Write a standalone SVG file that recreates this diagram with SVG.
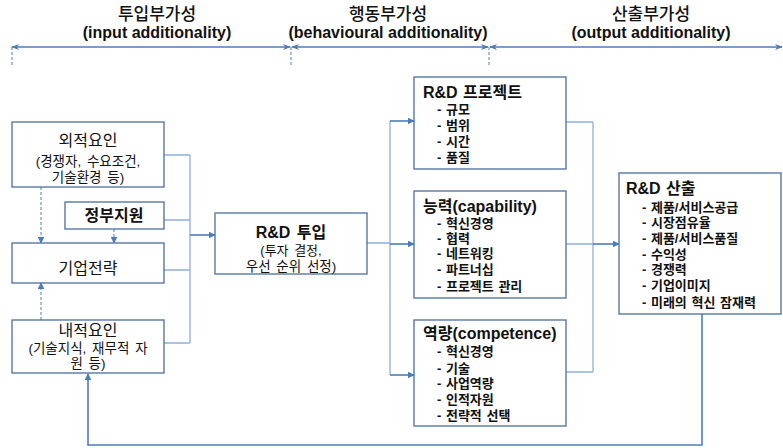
<svg xmlns="http://www.w3.org/2000/svg" width="783" height="448" viewBox="0 0 783 448">
<style>
text{font-family:"Liberation Sans","Noto Sans CJK KR",sans-serif;fill:#111;}
.hd{font-size:16px;font-weight:bold;text-anchor:middle;}
.hk{font-size:17px;font-weight:500;}
.box{fill:#fff;stroke:#4a6f9c;stroke-width:1.3;}
.t{font-size:13.5px;text-anchor:middle;word-spacing:2px;}
.t1{font-size:16px;}
.tb{font-size:16px;font-weight:bold;}
.it{font-size:13px;font-weight:bold;word-spacing:1px;}
.thin{stroke:#8fb0da;stroke-width:1.3;fill:none;}
.main{stroke:#4a7ebb;stroke-width:1.6;fill:none;}
.dash{stroke:#4a7ebb;stroke-width:1;stroke-dasharray:3,2;fill:none;}
</style>
<defs>
<marker id="ah" viewBox="0 0 10 10" refX="9" refY="5" markerWidth="7" markerHeight="7" markerUnits="userSpaceOnUse" orient="auto-start-reverse"><path d="M0,0 L10,5 L0,10 z" fill="#4a7ebb"/></marker>
<marker id="ah2" viewBox="0 0 10 10" refX="9" refY="5" markerWidth="8" markerHeight="8" markerUnits="userSpaceOnUse" orient="auto-start-reverse"><path d="M0,1 L10,5 L0,9 L3,5 z" fill="#4a7ebb"/></marker>
</defs>

<g id="headers">
<text class="hd" x="157" y="19.5"><tspan class="hk">투입부가성</tspan><tspan x="157" dy="18.5">(input additionality)</tspan></text>
<text class="hd" x="388" y="19.5"><tspan class="hk">행동부가성</tspan><tspan x="388" dy="18.5">(behavioural additionality)</tspan></text>
<text class="hd" x="651" y="19.5"><tspan class="hk">산출부가성</tspan><tspan x="651" dy="18.5">(output additionality)</tspan></text>
</g>

<g id="connectors">
<line class="main" x1="12" y1="47" x2="290" y2="47" marker-start="url(#ah2)" marker-end="url(#ah2)"/>
<line class="main" x1="292" y1="47" x2="488" y2="47" marker-start="url(#ah2)" marker-end="url(#ah2)"/>
<line class="main" x1="490" y1="47" x2="782" y2="47" marker-start="url(#ah2)" marker-end="url(#ah2)"/>
<line class="dash" x1="12" y1="47" x2="12" y2="67"/>
<line class="dash" x1="291" y1="47" x2="291" y2="67"/>
<line class="dash" x1="489" y1="47" x2="489" y2="67"/>

<line class="dash" x1="41" y1="187" x2="41" y2="243" marker-end="url(#ah)"/>
<line class="dash" x1="114" y1="229" x2="114" y2="243" marker-end="url(#ah)"/>
<line class="dash" x1="41" y1="320" x2="41" y2="283" marker-end="url(#ah)"/>

<path class="thin" d="M164,155 H190 M164,220 H190 M164,270 H190 M164,343 H190 M190,155 V343"/>
<line class="main" x1="190" y1="235" x2="215" y2="235" marker-end="url(#ah)"/>

<path class="thin" d="M367,243 H390 M390,121 V375"/>
<line class="main" x1="390" y1="121" x2="414" y2="121" marker-end="url(#ah)"/>
<line class="main" x1="390" y1="244" x2="414" y2="244" marker-end="url(#ah)"/>
<line class="main" x1="390" y1="375" x2="414" y2="375" marker-end="url(#ah)"/>

<path class="thin" d="M566,122 H593 M566,372 H593 M593,122 V372 M566,244 H593"/>
<line class="main" x1="593" y1="244" x2="619" y2="244" marker-end="url(#ah)"/>

<path class="main" d="M702,314 V445 H88 V374" marker-end="url(#ah)"/>
</g>

<g id="external">
<rect class="box" x="12" y="122" width="152" height="65"/>
<text class="t" x="88" y="146"><tspan class="t1">외적요인</tspan><tspan x="88" dy="20">(경쟁자, 수요조건,</tspan><tspan x="88" dy="16">기술환경 등)</tspan></text>
</g>

<g id="gov">
<rect class="box" x="65" y="202" width="99" height="27"/>
<text class="t" x="114" y="221" style="font-size:16px;font-weight:bold">정부지원</text>
</g>

<g id="strategy">
<rect class="box" x="12" y="243" width="152" height="40"/>
<text class="t" x="88" y="274" style="font-size:16px">기업전략</text>
</g>

<g id="internal">
<rect class="box" x="12" y="320" width="152" height="53"/>
<text class="t" x="88" y="336"><tspan class="t1">내적요인</tspan><tspan x="88" dy="16.5">(기술지식, 재무적 자</tspan><tspan x="88" dy="15.5">원 등)</tspan></text>
</g>

<g id="rdinput">
<rect class="box" x="215" y="213" width="152" height="61"/>
<text class="t" x="291" y="238"><tspan class="tb">R&amp;D 투입</tspan><tspan x="291" dy="17" style="font-size:13px">(투자 결정,</tspan><tspan x="291" dy="15.5">우선 순위 선정)</tspan></text>
</g>

<g id="project">
<rect class="box" x="414" y="77" width="152" height="92"/>
<text class="it" x="423" y="98"><tspan class="tb">R&amp;D 프로젝트</tspan><tspan x="437" dy="16">- 규모</tspan><tspan x="437" dy="16">- 범위</tspan><tspan x="437" dy="16">- 시간</tspan><tspan x="437" dy="16">- 품질</tspan></text>
</g>

<g id="capability">
<rect class="box" x="414" y="191" width="152" height="107"/>
<text class="it" x="423" y="212"><tspan class="tb">능력(capability)</tspan><tspan x="437" dy="16">- 혁신경영</tspan><tspan x="437" dy="15">- 협력</tspan><tspan x="437" dy="15">- 네트워킹</tspan><tspan x="437" dy="16">- 파트너십</tspan><tspan x="437" dy="17">- 프로젝트 관리</tspan></text>
</g>

<g id="competence">
<rect class="box" x="414" y="320" width="152" height="106"/>
<text class="it" x="423" y="339"><tspan class="tb">역량(competence)</tspan><tspan x="437" dy="17">- 혁신경영</tspan><tspan x="437" dy="17">- 기술</tspan><tspan x="437" dy="15">- 사업역량</tspan><tspan x="437" dy="16">- 인적자원</tspan><tspan x="437" dy="16">- 전략적 선택</tspan></text>
</g>

<g id="output">
<rect class="box" x="619" y="173" width="162" height="141"/>
<text class="it" x="626" y="194"><tspan class="tb">R&amp;D 산출</tspan><tspan x="642" dy="18">- 제품/서비스공급</tspan><tspan x="642" dy="15">- 시장점유율</tspan><tspan x="642" dy="16">- 제품/서비스품질</tspan><tspan x="642" dy="16">- 수익성</tspan><tspan x="642" dy="15">- 경쟁력</tspan><tspan x="642" dy="16">- 기업이미지</tspan><tspan x="642" dy="17">- 미래의 혁신 잠재력</tspan></text>
</g>
</svg>
